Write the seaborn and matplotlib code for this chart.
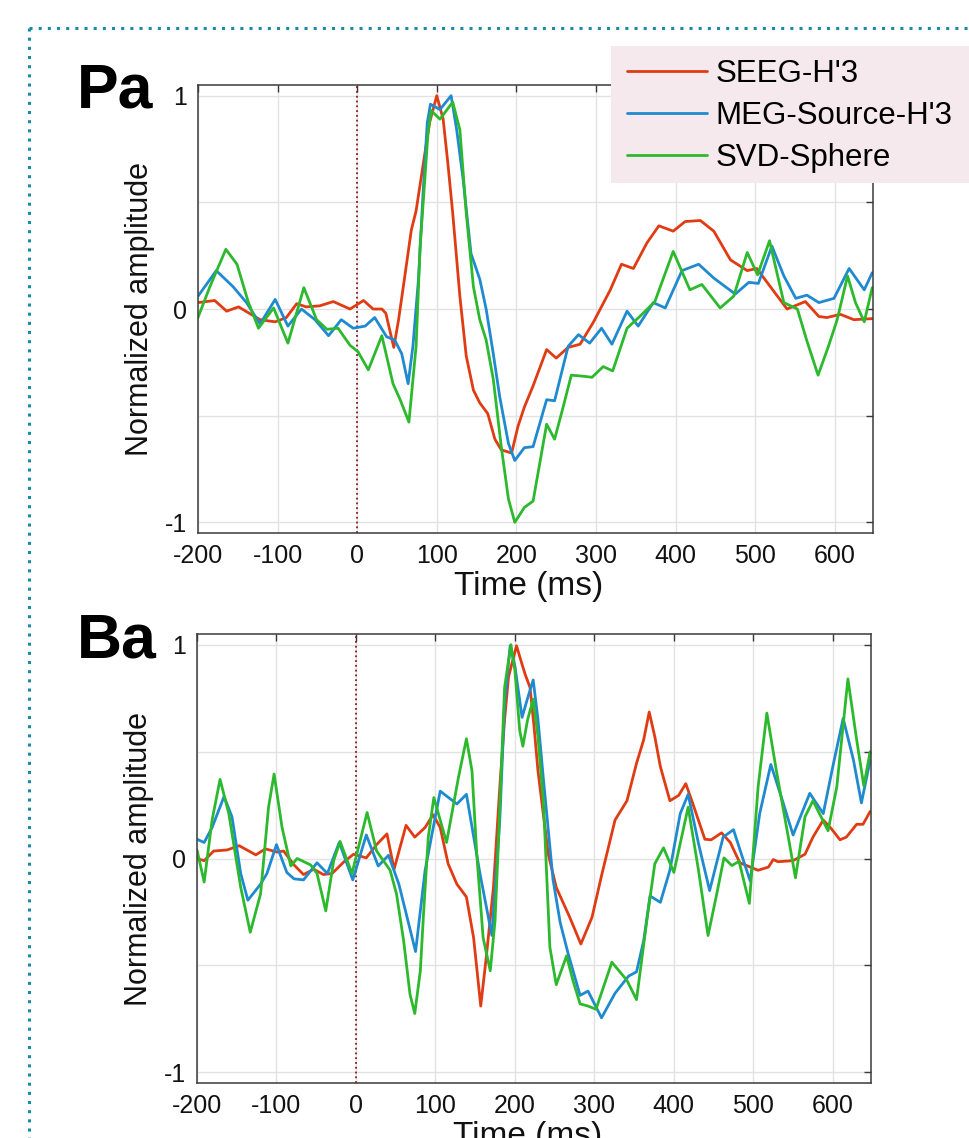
import matplotlib
matplotlib.use("Agg")
import matplotlib.pyplot as plt
import matplotlib.lines as mlines
import matplotlib.patches as mpatches
import pandas as pd
import seaborn as sns

pa_seeg = [(-200, 0.03), (-179, 0.04), (-164, -0.01), (-149, 0.01), (-122, -0.05), (-103, -0.06),
           (-89, -0.04), (-76, 0.025), (-64, 0.01), (-47, 0.015), (-30, 0.035), (-9, 0.0), (8, 0.04),
           (20, 0.0), (31, 0.0), (36, -0.02), (46, -0.18), (52, -0.05), (58, 0.106), (68, 0.37),
           (74, 0.46), (83, 0.68), (91, 0.875), (100, 1.0), (108, 0.89), (114, 0.68), (120, 0.45),
           (129, 0.06), (137, -0.22), (146, -0.38), (154, -0.44), (164, -0.49), (173, -0.61),
           (181, -0.66), (194, -0.675), (202, -0.55), (210, -0.46), (221, -0.36), (238, -0.19),
           (250, -0.23), (265, -0.18), (280, -0.165), (297, -0.06), (318, 0.09), (332, 0.21),
           (347, 0.19), (364, 0.31), (379, 0.39), (397, 0.365), (412, 0.41), (431, 0.415),
           (448, 0.365), (469, 0.23), (490, 0.18), (502, 0.19), (519, 0.105), (540, 0.0),
           (563, 0.035), (580, -0.035), (590, -0.04), (607, -0.025), (624, -0.05), (647, -0.045)]

pa_meg = [(-200, 0.06), (-177, 0.18), (-156, 0.105), (-139, 0.03), (-122, -0.07), (-103, 0.045),
          (-87, -0.08), (-70, 0.0), (-53, -0.05), (-36, -0.125), (-20, -0.05), (-5, -0.09), (10, -0.08),
          (22, -0.04), (37, -0.13), (47, -0.145), (56, -0.21), (64, -0.35), (70, -0.175), (77, 0.14),
          (83, 0.56), (88, 0.87), (92, 0.96), (104, 0.935), (118, 1.0), (125, 0.84), (133, 0.61),
          (143, 0.26), (154, 0.14), (162, 0.0), (171, -0.21), (179, -0.41), (190, -0.63),
          (198, -0.71), (210, -0.65), (221, -0.645), (238, -0.425), (248, -0.43), (265, -0.175),
          (278, -0.12), (292, -0.16), (307, -0.09), (320, -0.165), (339, -0.01), (353, -0.08),
          (372, 0.03), (387, 0.005), (408, 0.18), (429, 0.21), (448, 0.145), (475, 0.07),
          (492, 0.125), (504, 0.12), (521, 0.295), (536, 0.155), (551, 0.05), (565, 0.065),
          (580, 0.03), (599, 0.05), (618, 0.19), (637, 0.09), (647, 0.17)]

pa_svd = [(-200, -0.04), (-185, 0.105), (-165, 0.28), (-151, 0.21), (-137, 0.035), (-124, -0.09),
          (-105, 0.005), (-87, -0.16), (-67, 0.1), (-51, -0.05), (-38, -0.095), (-24, -0.09),
          (-9, -0.17), (1, -0.2), (14, -0.285), (31, -0.125), (45, -0.35), (54, -0.425), (65, -0.53),
          (74, -0.175), (79, 0.29), (85, 0.61), (89, 0.825), (93, 0.93), (104, 0.89), (120, 0.97),
          (129, 0.84), (137, 0.45), (146, 0.105), (154, -0.05), (162, -0.145), (171, -0.33),
          (181, -0.645), (190, -0.89), (198, -1.0), (210, -0.93), (221, -0.9), (238, -0.54),
          (248, -0.61), (258, -0.47), (269, -0.31), (284, -0.315), (295, -0.32), (309, -0.27),
          (321, -0.29), (339, -0.09), (355, -0.035), (374, 0.035), (397, 0.27), (418, 0.09),
          (433, 0.115), (456, 0.005), (473, 0.06), (490, 0.265), (503, 0.16), (518, 0.32),
          (536, 0.03), (553, 0.0), (565, -0.15), (579, -0.31), (592, -0.175), (603, -0.05),
          (616, 0.155), (626, 0.03), (637, -0.06), (647, 0.1)]

ba_seeg = [(-200, 0.0), (-191, -0.01), (-179, 0.035), (-162, 0.04), (-147, 0.06), (-126, 0.017),
           (-114, 0.045), (-99, 0.03), (-91, 0.035), (-78, -0.03), (-66, -0.075), (-53, -0.05),
           (-41, -0.075), (-30, -0.07), (-15, -0.015), (-3, 0.02), (13, 0.003), (26, 0.065),
           (39, 0.115), (48, -0.05), (63, 0.155), (74, 0.1), (87, 0.145), (97, 0.205), (106, 0.145),
           (116, -0.025), (127, -0.12), (139, -0.18), (148, -0.37), (157, -0.69), (164, -0.46),
           (173, -0.135), (181, 0.335), (187, 0.65), (192, 0.85), (202, 0.995), (208, 0.92),
           (213, 0.86), (219, 0.8), (224, 0.62), (229, 0.41), (236, 0.2), (242, 0.02), (252, -0.135),
           (269, -0.275), (283, -0.4), (297, -0.275), (309, -0.08), (326, 0.18), (341, 0.27),
           (353, 0.445), (362, 0.555), (369, 0.685), (376, 0.57), (383, 0.43), (395, 0.27),
           (406, 0.295), (415, 0.35), (424, 0.255), (439, 0.09), (447, 0.0875), (460, 0.12),
           (471, 0.075), (483, -0.02), (506, -0.055), (519, -0.04), (525, -0.005), (531, -0.015),
           (550, -0.01), (565, 0.02), (575, 0.1), (588, 0.18), (598, 0.14), (609, 0.0875),
           (617, 0.1), (630, 0.16), (638, 0.16), (647, 0.22)]

ba_meg = [(-200, 0.09), (-191, 0.075), (-181, 0.145), (-166, 0.29), (-156, 0.195), (-145, -0.07),
          (-136, -0.195), (-120, -0.12), (-112, -0.07), (-100, 0.065), (-87, -0.065), (-78, -0.095),
          (-66, -0.1), (-49, -0.02), (-36, -0.07), (-21, 0.075), (-4, -0.1), (13, 0.11), (28, -0.035),
          (41, 0.015), (54, -0.12), (75, -0.435), (87, -0.055), (106, 0.315), (127, 0.255),
          (139, 0.3), (156, -0.07), (171, -0.36), (181, 0.18), (187, 0.725), (194, 0.995),
          (200, 0.9), (209, 0.66), (216, 0.75), (223, 0.835), (229, 0.65), (236, 0.365),
          (248, -0.1), (257, -0.3), (267, -0.445), (282, -0.64), (292, -0.62), (309, -0.745),
          (326, -0.63), (343, -0.55), (353, -0.53), (362, -0.385), (370, -0.175), (383, -0.205),
          (395, -0.055), (408, 0.21), (418, 0.3), (431, 0.07), (445, -0.15), (462, 0.1),
          (475, 0.135), (485, 0.02), (496, -0.105), (508, 0.21), (522, 0.44), (535, 0.29),
          (550, 0.11), (571, 0.305), (588, 0.21), (600, 0.43), (613, 0.655), (626, 0.46),
          (636, 0.26), (647, 0.46)]

ba_svd = [(-200, 0.04), (-191, -0.11), (-181, 0.18), (-171, 0.37), (-160, 0.21), (-145, -0.135),
          (-133, -0.345), (-120, -0.165), (-110, 0.24), (-103, 0.395), (-93, 0.145), (-82, -0.035),
          (-74, 0.0), (-57, -0.03), (-49, -0.07), (-38, -0.245), (-28, -0.01), (-20, 0.08),
          (-5, -0.07), (3, 0.05), (14, 0.215), (26, 0.035), (43, -0.055), (51, -0.165),
          (60, -0.385), (68, -0.635), (74, -0.725), (81, -0.525), (85, -0.26), (91, 0.1),
          (98, 0.285), (114, 0.075), (129, 0.38), (139, 0.56), (146, 0.41), (152, 0.02),
          (160, -0.37), (169, -0.525), (175, -0.29), (179, 0.053), (187, 0.8), (195, 1.0),
          (200, 0.88), (206, 0.6), (210, 0.525), (216, 0.65), (223, 0.745), (229, 0.57),
          (236, 0.255), (244, -0.415), (252, -0.59), (265, -0.455), (273, -0.57), (282, -0.68),
          (292, -0.69), (302, -0.705), (322, -0.485), (341, -0.57), (353, -0.66), (366, -0.29),
          (376, -0.025), (387, 0.05), (400, -0.065), (418, 0.24), (431, -0.055), (443, -0.36),
          (454, -0.165), (463, 0.003), (473, -0.033), (482, -0.013), (495, -0.21), (506, 0.335),
          (517, 0.68), (529, 0.41), (544, 0.1), (553, -0.09), (565, 0.195), (575, 0.27),
          (594, 0.13), (605, 0.335), (619, 0.84), (630, 0.555), (639, 0.34), (647, 0.5)]

signals = ["SEEG-H'3", "MEG-Source-H'3", "SVD-Sphere"]
colors = {"SEEG-H'3": "#e03c14", "MEG-Source-H'3": "#1f8ad0", "SVD-Sphere": "#2db92d"}
xticks = [-200, -100, 0, 100, 200, 300, 400, 500, 600]
yticks = [-1, -0.5, 0, 0.5, 1]
yticklabels = ['-1', '', '0', '', '1']


def to_frame(series):
    rows = []
    for name, pts in zip(signals, series):
        for t, v in pts:
            rows.append({'time': t, 'amp': v, 'signal': name})
    return pd.DataFrame(rows)


sns.set_style('white')
plt.rcParams['font.family'] = ['Liberation Sans', 'DejaVu Sans']
plt.rcParams['axes.unicode_minus'] = False
plt.rcParams['text.color'] = '#111111'
plt.rcParams['axes.labelcolor'] = '#111111'

fig = plt.figure(figsize=(9.7, 11.38), dpi=100)
ax_p = fig.add_axes([0.2041, 0.5316, 0.6959, 0.3937])
ax_b = fig.add_axes([0.2031, 0.0483, 0.6948, 0.3946])

panels = [(ax_p, to_frame([pa_seeg, pa_meg, pa_svd])),
          (ax_b, to_frame([ba_seeg, ba_meg, ba_svd]))]

for ax, df in panels:
    ax.axvline(0, color='#8b1a1a', ls=':', lw=1.3, zorder=1)
    sns.lineplot(data=df, x='time', y='amp', hue='signal', hue_order=signals,
                 palette=colors, estimator=None, sort=False, lw=2.0, ax=ax, legend=False,
                 solid_joinstyle='round', solid_capstyle='round')
    ax.set_xlim(-200, 648)
    ax.set_ylim(-1.05, 1.05)
    ax.set_xticks(xticks)
    ax.set_xticklabels([str(x) for x in xticks])
    ax.set_yticks(yticks)
    ax.set_yticklabels(yticklabels)
    ax.grid(True, color='#e2e2e2', lw=1.0)
    ax.set_axisbelow(True)
    ax.tick_params(direction='in', length=5, width=1, pad=8, labelsize=18,
                   top=True, right=True, color='#3a3a3a', labelcolor='#111111')
    for sp in ax.spines.values():
        sp.set_color('#3a3a3a')
        sp.set_linewidth(1.1)
    ax.set_xlabel('Time (ms)', fontsize=24, va='center')
    ax.xaxis.set_label_coords(0.49, -0.12)
    ax.set_ylabel('Normalized amplitude', fontsize=22, va='center')
    ax.yaxis.set_label_coords(-0.086, 0.5)

fig.text(77 / 970, 1 - 108 / 1138, 'Pa', fontsize=45, fontweight='bold', va='baseline',
         color='black')
fig.text(77 / 970, 1 - 657 / 1138, 'Ba', fontsize=45, fontweight='bold', va='baseline',
         color='black')

# legend panel: pink box running off the right edge, as in the source figure
fig.add_artist(mpatches.Rectangle((611 / 970, 1 - 183 / 1138), 1 - 611 / 970, 137 / 1138,
                                  transform=fig.transFigure, facecolor='#f5e9ee',
                                  edgecolor='none', zorder=5))
handles = [mlines.Line2D([], [], color=colors[s], lw=2.0) for s in signals]
leg = fig.legend(handles, signals, loc='upper left', bbox_to_anchor=(614 / 970, 1 - 46 / 1138),
                 fontsize=22.5, frameon=False, handlelength=2.55, handletextpad=0.27,
                 labelspacing=0.38, borderpad=0.42, borderaxespad=0)
leg.set_zorder(6)
for txt in leg.get_texts():
    txt.set_color('black')

# dotted panel frame
teal = '#1a8aa6'
fx = 29 / 970
fy = 1 - 28 / 1138
fig.add_artist(mlines.Line2D([fx, fx], [fy, 0], transform=fig.transFigure,
                             color=teal, lw=2.2, ls=(0, (1, 2))))
fig.add_artist(mlines.Line2D([fx, 1], [fy, fy], transform=fig.transFigure,
                             color=teal, lw=2.2, ls=(0, (1, 2))))

fig.savefig('out.png', dpi=100)
